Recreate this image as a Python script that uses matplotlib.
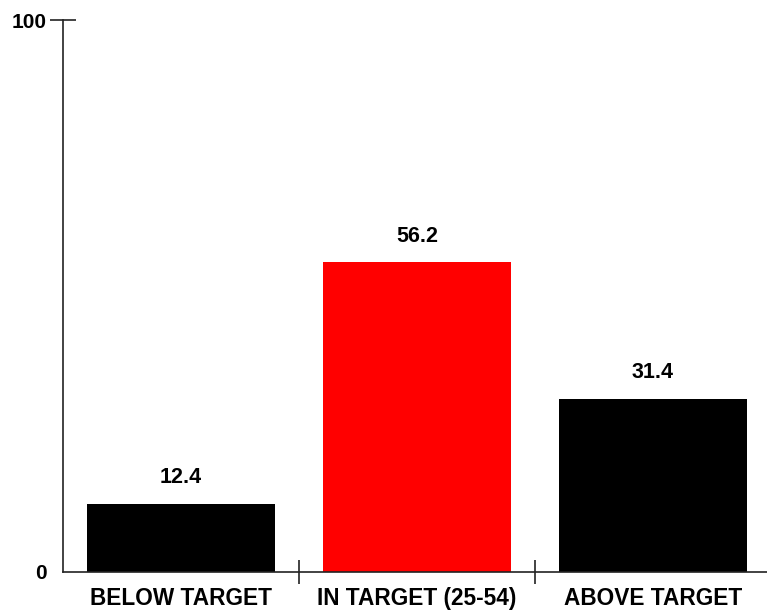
import matplotlib.pyplot as plt
from matplotlib.ticker import FixedLocator

plt.rcParams['font.family'] = ['Liberation Sans', 'DejaVu Sans']

categories = ['BELOW TARGET', 'IN TARGET (25-54)', 'ABOVE TARGET']
values = [12.4, 56.2, 31.4]
colors = ['#000000', '#ff0000', '#000000']

fig = plt.figure(figsize=(7.67, 6.10), dpi=100)
ax = fig.add_axes([0.0821, 0.0623, 0.923, 0.9049])

x = range(len(categories))
bars = ax.bar(x, values, width=0.8, color=colors)
for xi, v in zip(x, values):
    ax.annotate(f'{v:.1f}', (xi, v), xytext=(0, 11), textcoords='offset points',
                ha='center', va='bottom', fontsize=15.5, fontweight='bold')

ax.set_xlim(-0.5, 2.5)
ax.set_ylim(0, 100)

ax.spines['top'].set_visible(False)
ax.spines['right'].set_visible(False)
for s in ('left', 'bottom'):
    ax.spines[s].set_linewidth(1.2)
    ax.spines[s].set_color('#222222')

ax.set_yticks([0, 100])
ax.set_yticklabels(['0', '100'], fontsize=15, fontweight='bold')
ax.tick_params(axis='y', direction='inout', length=19, width=1.2, color='#222222', pad=2)
ax.yaxis.get_major_ticks()[0].tick1line.set_visible(False)

ax.set_xticks(list(x))
ax.set_xticklabels(categories, fontsize=16.3, fontweight='bold')
ax.tick_params(axis='x', which='major', length=0, pad=11)
ax.xaxis.set_minor_locator(FixedLocator([0.5, 1.5]))
ax.tick_params(axis='x', which='minor', direction='inout', length=17, width=1.2, color='#222222')

fig.savefig('out.png', dpi=100)
